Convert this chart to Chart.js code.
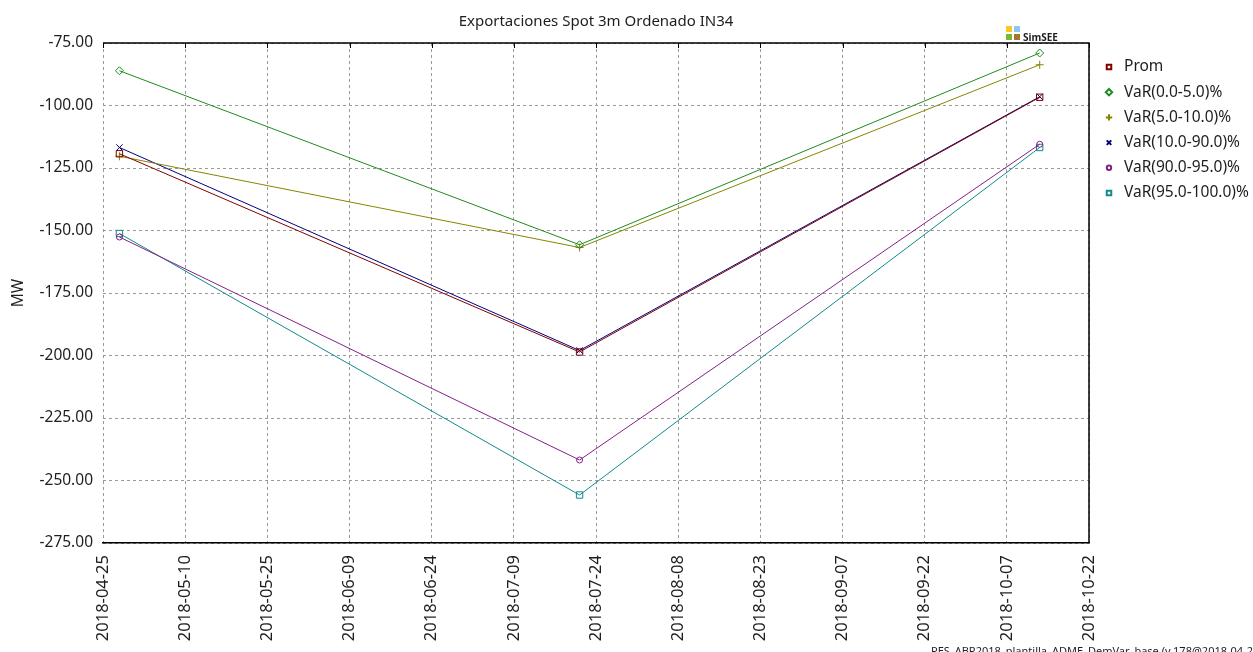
<!DOCTYPE html>
<html>
<head>
<meta charset="utf-8">
<script src="https://cdn.jsdelivr.net/npm/chart.js@4/dist/chart.umd.min.js"></script>
<style>
  html, body { margin: 0; padding: 0; background: #fff; }
  #wrap { width: 1253px; height: 652px; position: relative; }
</style>
</head>
<body>
<div id="wrap"><canvas id="c" width="1253" height="652"></canvas></div>
<script>
// Fechas de los puntos (fin de cada trimestre de simulación)
const dates = ['2018-04-28', '2018-07-21', '2018-10-13'];

// Valores por serie [MW]
const prom     = [-119.3, -198.6, -96.7];
const var0_5   = [-86.1, -155.7, -79.0];
const var5_10  = [-120.3, -156.8, -83.7];
const var10_90 = [-116.8, -198.0, -96.5];
const var90_95 = [-152.6, -241.8, -115.5];
const var95_100 = [-151.2, -255.8, -116.8];

// Etiquetas del eje X (cada 15 días)
const xTickLabels = ['2018-04-25', '2018-05-10', '2018-05-25', '2018-06-09', '2018-06-24',
  '2018-07-09', '2018-07-24', '2018-08-08', '2018-08-23', '2018-09-07', '2018-09-22',
  '2018-10-07', '2018-10-22'];

const seriesNames = ['Prom', 'VaR(0.0-5.0)%', 'VaR(5.0-10.0)%', 'VaR(10.0-90.0)%', 'VaR(90.0-95.0)%', 'VaR(95.0-100.0)%'];
const seriesValues = [prom, var0_5, var5_10, var10_90, var90_95, var95_100];
const seriesColors = ['#800000', '#1f8a1f', '#858500', '#000080', '#852085', '#108a8a'];
const seriesPoints = ['rect', 'rectRot', 'cross', 'crossRot', 'circle', 'rect'];
const seriesRadius = [4.5, 4, 4, 4.5, 3, 4.5];

const FONT = '"Noto Sans", "Open Sans", sans-serif';
const TEXT = '#1e1e1e';
const ts = s => Date.parse(s + 'T00:00:00Z');
const fmt = v => new Date(v).toISOString().slice(0, 10);

const datasets = seriesNames.map((name, i) => ({
  label: name,
  data: dates.map((d, j) => ({ x: ts(d), y: seriesValues[i][j] })),
  borderColor: seriesColors[i],
  backgroundColor: 'rgba(0,0,0,0)',
  borderWidth: 1,
  pointStyle: seriesPoints[i],
  pointRadius: seriesRadius[i],
  pointBorderWidth: 1,
  pointBorderColor: seriesColors[i],
  pointBackgroundColor: 'rgba(0,0,0,0)',
  tension: 0
}));

// Marco, título, leyenda, logo y pie de página
const decor = {
  id: 'decor',
  afterDraw(chart) {
    const { ctx, chartArea: a, scales } = chart;
    ctx.save();
    // marco superior y derecho
    ctx.strokeStyle = '#000';
    ctx.lineWidth = 1.5;
    ctx.beginPath();
    ctx.moveTo(a.left, a.top);
    ctx.lineTo(a.right, a.top);
    ctx.lineTo(a.right, a.bottom);
    ctx.stroke();
    // marcas interiores en el borde superior
    ctx.lineWidth = 1;
    scales.x.ticks.forEach(t => {
      const px = Math.round(scales.x.getPixelForValue(t.value)) + 0.5;
      ctx.beginPath();
      ctx.moveTo(px, a.top);
      ctx.lineTo(px, a.top + 5);
      ctx.stroke();
    });

    // título
    ctx.fillStyle = TEXT;
    ctx.font = '15px ' + FONT;
    ctx.textAlign = 'center';
    ctx.textBaseline = 'middle';
    ctx.fillText('Exportaciones Spot 3m Ordenado IN34', (a.left + a.right) / 2, 22);

    // leyenda
    ctx.textAlign = 'left';
    ctx.font = '15.5px ' + FONT;
    seriesNames.forEach((name, i) => {
      const y = 67 + i * 25.2;
      ctx.strokeStyle = seriesColors[i];
      ctx.fillStyle = 'rgba(0,0,0,0)';
      ctx.lineWidth = 2;
      Chart.helpers.drawPoint(ctx, {
        pointStyle: seriesPoints[i], rotation: 0,
        radius: seriesPoints[i] === 'circle' ? 2.2 : 3.2, borderWidth: 2
      }, 1109, y);
      ctx.fillStyle = TEXT;
      ctx.fillText(name, 1124, y);
    });

    // logo SimSEE
    ctx.fillStyle = '#f7c82a'; ctx.fillRect(1006, 26, 6, 6);
    ctx.fillStyle = '#8cc9f2'; ctx.fillRect(1014, 26, 6, 6);
    ctx.fillStyle = '#7cb82f'; ctx.fillRect(1006, 34, 6, 6);
    ctx.fillStyle = '#a3782a'; ctx.fillRect(1014, 34, 6, 6);
    ctx.fillStyle = TEXT;
    ctx.font = 'bold 10px ' + FONT;
    ctx.textBaseline = 'alphabetic';
    ctx.fillText('SimSEE', 1023, 41);

    // pie de página
    ctx.font = '11px ' + FONT;
    ctx.textBaseline = 'top';
    ctx.fillText('PES_ABR2018_plantilla_ADME_DemVar_base (v.178@2018-04-25', 931, 646);
    ctx.restore();
  }
};

new Chart(document.getElementById('c'), {
  type: 'line',
  data: { datasets },
  plugins: [decor],
  options: {
    responsive: false,
    animation: false,
    maintainAspectRatio: false,
    layout: { padding: { left: 0, top: 43, right: 1253 - 1089, bottom: 0 } },
    plugins: { legend: { display: false }, title: { display: false }, tooltip: { enabled: false } },
    scales: {
      x: {
        type: 'linear',
        min: ts(xTickLabels[0]),
        max: ts(xTickLabels[xTickLabels.length - 1]),
        afterBuildTicks: s => { s.ticks = xTickLabels.map(d => ({ value: ts(d) })); },
        afterFit: s => { s.height = 652 - 543; },
        ticks: {
          autoSkip: false, minRotation: 90, maxRotation: 90, padding: 12,
          color: TEXT, font: { family: FONT, size: 16.5 },
          callback: v => fmt(v)
        },
        grid: { color: '#9a9a9a', lineWidth: 1, drawTicks: false, tickLength: 0 },
        border: { display: true, color: '#000', width: 1.5, dash: [3, 3] }
      },
      y: {
        min: -275, max: -75,
        afterFit: s => { s.width = 103; },
        ticks: {
          stepSize: 25, padding: 10, color: TEXT, font: { family: FONT, size: 15.5 },
          callback: v => v.toFixed(2)
        },
        grid: { color: '#9a9a9a', lineWidth: 1, drawTicks: false, tickLength: 0 },
        border: { display: false, dash: [3, 3] },
        title: { display: true, text: 'MW', color: TEXT, font: { family: FONT, size: 15.5 }, padding: { top: 9, bottom: 0 } }
      }
    }
  }
});
</script>
</body>
</html>
